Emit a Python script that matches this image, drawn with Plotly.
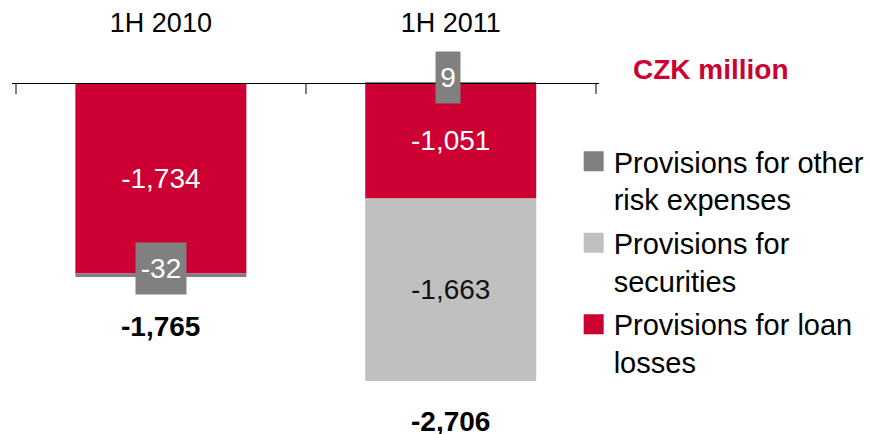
import plotly.graph_objects as go

# ---- data ----
categories = ["1H 2010", "1H 2011"]
loan_losses = [-1734, -1051]
securities = [0, -1663]
other_risk = [-32, 9]
totals = [-1765, -2706]

series_names = [
    "Provisions for other<br>risk expenses",
    "Provisions for<br>securities",
    "Provisions for loan<br>losses",
]
unit_label = "CZK million"

RED = "#CC0033"
LGRAY = "#C0C0C0"
DGRAY = "#808080"
FONT = "Liberation Sans, Arial, sans-serif"
FS = 28

W, H = 870, 434
PX_PER_UNIT = 0.1098
ZERO_PX = 83
ymax = ZERO_PX / PX_PER_UNIT
ymin = ymax - H / PX_PER_UNIT

# x: category boundaries at 16 px and 597 px
X_LEFT, X_RIGHT = 16, 597
PX_PER_CAT = (X_RIGHT - X_LEFT) / 2
EXT = 0.012
dom = [(X_LEFT - EXT * PX_PER_CAT) / W, (X_RIGHT + EXT * PX_PER_CAT) / W]

fig = go.Figure()

def fmt(v):
    return f"{v:,}" if v != 0 else ""

fig.add_trace(go.Bar(
    x=categories, y=loan_losses, marker_color=RED, width=0.59,
    text=[fmt(v) for v in loan_losses], textposition="inside",
    insidetextanchor="middle", textangle=0,
    textfont=dict(family=FONT, size=FS, color="white"),
    showlegend=False, hoverinfo="skip",
))
fig.add_trace(go.Bar(
    x=categories, y=securities, marker_color=LGRAY, width=0.59,
    text=[fmt(v) for v in securities], textposition="inside",
    insidetextanchor="middle", textangle=0,
    textfont=dict(family=FONT, size=FS, color="#111111"),
    showlegend=False, hoverinfo="skip",
))
fig.add_trace(go.Bar(
    x=categories, y=other_risk, marker_color=DGRAY, width=0.59,
    showlegend=False, hoverinfo="skip",
))

# legend entries (square swatches)
for name, col in zip(series_names, [DGRAY, LGRAY, RED]):
    fig.add_trace(go.Scatter(
        x=[None], y=[None], mode="markers", name=name, legendgroup=name,
        marker=dict(symbol="square", size=16, color=col,
                    line=dict(width=4, color=col)),
    ))

# small-value labels in grey boxes
for i, v in enumerate(other_risk):
    base = sum(x for x in (loan_losses[i], securities[i], v) if x < 0) if v < 0 else v
    txt = f"{v:,}"
    fig.add_annotation(
        x=categories[i], y=base, xref="x", yref="y",
        text=txt, showarrow=False,
        font=dict(family=FONT, size=FS, color="white"),
        bgcolor=DGRAY, borderpad=0,
        width=50 if v < 0 else 24, height=51,
        yshift=8 if v < 0 else 5, xshift=0 if v < 0 else -3,
    )

# totals
for i, t in enumerate(totals):
    neg_sum = sum(x for x in (loan_losses[i], securities[i], other_risk[i]) if x < 0)
    fig.add_annotation(
        x=categories[i], y=neg_sum, xref="x", yref="y",
        text=f"<b>{t:,}</b>", showarrow=False, yanchor="middle",
        font=dict(family=FONT, size=FS, color="black"),
        yshift=-50 if i == 0 else -40,
    )

fig.add_annotation(
    x=713 / W, y=1 - 69 / H, xref="paper", yref="paper",
    text=f"<b>{unit_label}</b>", showarrow=False,
    font=dict(family=FONT, size=FS, color=RED),
    xanchor="center", yanchor="middle",
)

fig.update_layout(
    template="none",
    width=W, height=H,
    margin=dict(l=0, r=0, t=0, b=0, pad=0),
    paper_bgcolor="white", plot_bgcolor="white",
    barmode="relative",
    font=dict(family=FONT, size=FS, color="black"),
    xaxis=dict(
        domain=dom, range=[-0.5 - EXT, 1.5 + EXT],
        type="category", side="top", anchor="free",
        position=1 - ZERO_PX / H, automargin=False,
        showline=True, linecolor="black", linewidth=1,
        ticks="inside", tickson="boundaries", ticklen=10,
        tickcolor="#7f7f7f", tickwidth=2,
        ticklabelstandoff=40,
        tickfont=dict(family=FONT, size=27, color="black"),
        showgrid=False, zeroline=False, fixedrange=True,
    ),
    yaxis=dict(
        domain=[0, 1], range=[ymin, ymax], visible=False, automargin=False,
        showgrid=False, zeroline=False, fixedrange=True,
    ),
    legend=dict(
        x=575 / W, y=1 - 136 / H, xanchor="left", yanchor="top",
        font=dict(family=FONT, size=29, color="black"),
        traceorder="grouped", tracegroupgap=3, valign="top",
        bgcolor="rgba(0,0,0,0)", borderwidth=0,
    ),
    showlegend=True,
)

fig.write_html(
    "out.html",
    config={"displayModeBar": False},
    post_script="document.body.style.margin='0';document.body.style.padding='0';",
)
